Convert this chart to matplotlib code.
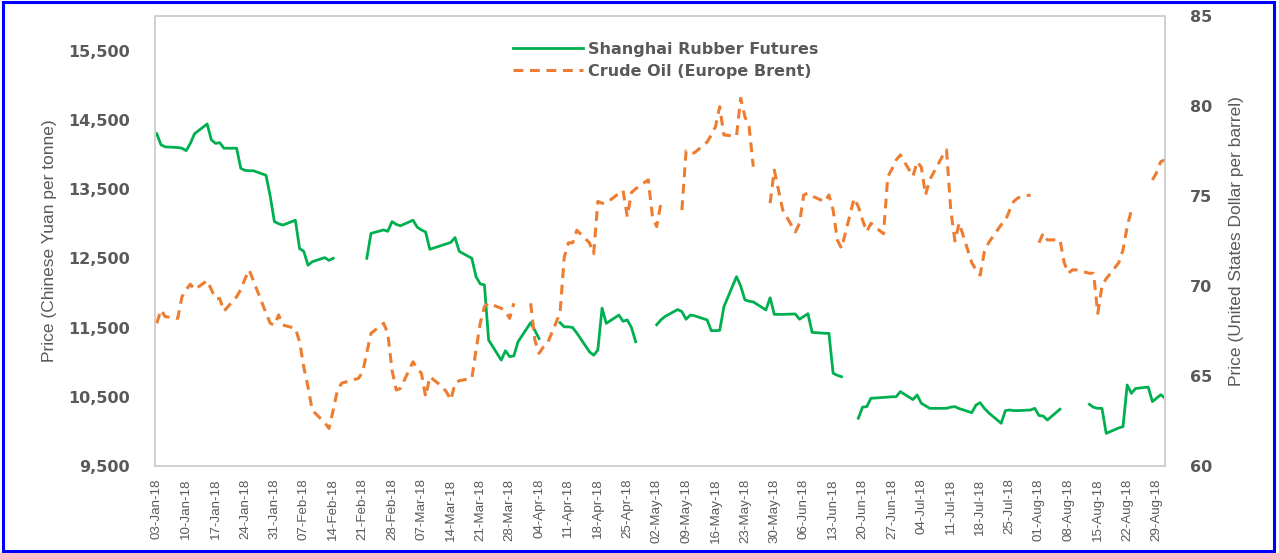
import numpy as np
import pandas as pd
import matplotlib
matplotlib.use("Agg")
import matplotlib.pyplot as plt
from matplotlib.patches import Rectangle

nan = np.nan

# Shanghai rubber futures (CNY / tonne), business days, nan = no trading
rubber_dates = [
    "2018-01-03", "2018-01-04", "2018-01-05", "2018-01-08", "2018-01-09", "2018-01-10",
    "2018-01-11", "2018-01-12", "2018-01-15", "2018-01-16", "2018-01-17", "2018-01-18",
    "2018-01-19", "2018-01-22", "2018-01-23", "2018-01-24", "2018-01-25", "2018-01-26",
    "2018-01-29", "2018-01-30", "2018-01-31", "2018-02-01", "2018-02-02", "2018-02-05",
    "2018-02-06", "2018-02-07", "2018-02-08", "2018-02-09", "2018-02-12", "2018-02-13",
    "2018-02-14", "2018-02-15", "2018-02-22", "2018-02-23", "2018-02-26", "2018-02-27",
    "2018-02-28", "2018-03-01", "2018-03-02", "2018-03-05", "2018-03-06", "2018-03-07",
    "2018-03-08", "2018-03-09", "2018-03-12", "2018-03-13", "2018-03-14", "2018-03-15",
    "2018-03-16", "2018-03-19", "2018-03-20", "2018-03-21", "2018-03-22", "2018-03-23",
    "2018-03-26", "2018-03-27", "2018-03-28", "2018-03-29", "2018-03-30", "2018-04-02",
    "2018-04-03", "2018-04-04", "2018-04-05", "2018-04-09", "2018-04-10", "2018-04-11",
    "2018-04-12", "2018-04-13", "2018-04-16", "2018-04-17", "2018-04-18", "2018-04-19",
    "2018-04-20", "2018-04-23", "2018-04-24", "2018-04-25", "2018-04-26", "2018-04-27",
    "2018-04-30", "2018-05-02", "2018-05-03", "2018-05-04", "2018-05-07", "2018-05-08",
    "2018-05-09", "2018-05-10", "2018-05-11", "2018-05-14", "2018-05-15", "2018-05-16",
    "2018-05-17", "2018-05-18", "2018-05-21", "2018-05-22", "2018-05-23", "2018-05-24",
    "2018-05-25", "2018-05-28", "2018-05-29", "2018-05-30", "2018-05-31", "2018-06-01",
    "2018-06-04", "2018-06-05", "2018-06-06", "2018-06-07", "2018-06-08", "2018-06-11",
    "2018-06-12", "2018-06-13", "2018-06-14", "2018-06-15", "2018-06-18", "2018-06-19",
    "2018-06-20", "2018-06-21", "2018-06-22", "2018-06-25", "2018-06-26", "2018-06-27",
    "2018-06-28", "2018-06-29", "2018-07-02", "2018-07-03", "2018-07-04", "2018-07-05",
    "2018-07-06", "2018-07-09", "2018-07-10", "2018-07-11", "2018-07-12", "2018-07-13",
    "2018-07-16", "2018-07-17", "2018-07-18", "2018-07-19", "2018-07-20", "2018-07-23",
    "2018-07-24", "2018-07-25", "2018-07-26", "2018-07-27", "2018-07-30", "2018-07-31",
    "2018-08-01", "2018-08-02", "2018-08-03", "2018-08-06", "2018-08-07", "2018-08-13",
    "2018-08-14", "2018-08-15", "2018-08-16", "2018-08-17", "2018-08-20", "2018-08-21",
    "2018-08-22", "2018-08-23", "2018-08-24", "2018-08-27", "2018-08-28", "2018-08-29",
    "2018-08-30", "2018-08-31",
]
rubber_price = [
    14300, 14140, 14110, 14100, 14090, 14055,
    14160, 14300, 14440, 14210, 14160, 14170,
    14090, 14090, 13800, 13770, 13765, 13765,
    13700, 13400, 13030, 13000, 12980, 13050,
    12640, 12600, 12400, 12450, 12510, 12470,
    12500, nan, 12500, 12860, 12910, 12890,
    13030, 12990, 12970, 13050, 12950, 12910,
    12880, 12630, 12690, 12710, 12730, 12800,
    12600, 12500, 12235, 12130, 12115, 11320,
    11030, 11165, 11080, 11090, 11295, 11570,
    11460, 11340, nan, 11570, 11510, 11510,
    11500, 11420, 11150, 11100, 11176, 11780,
    11560, 11680, 11590, 11610, 11500, 11295,
    nan, 11540, 11610, 11660, 11760, 11730,
    11620, 11680, 11670, 11610, 11455, 11455,
    11460, 11800, 12235, 12100, 11900, 11880,
    11870, 11754, 11930, 11690, 11690, 11690,
    11696, 11620, 11660, 11700, 11430, 11417,
    11417, 10839, 10810, 10790, nan, 10190,
    10350, 10357, 10478, 10490, 10495, 10500,
    10500, 10574, 10460, 10526, 10406, 10370,
    10333, 10333, 10333, 10350, 10357, 10330,
    10270, 10380, 10415, 10333, 10270, 10117,
    10300, 10309, 10300, 10300, 10309, 10333,
    10230, 10222, 10164, 10320, nan, 10391,
    10348, 10333, 10333, 9972, 10050, 10068,
    10670, 10550, 10620, 10640, 10430, 10480,
    10530, 10480,
]

# Europe Brent crude (USD / barrel), nan = no quote
brent_dates = [
    "2018-01-03", "2018-01-04", "2018-01-05", "2018-01-08", "2018-01-09", "2018-01-10",
    "2018-01-11", "2018-01-12", "2018-01-15", "2018-01-16", "2018-01-17", "2018-01-18",
    "2018-01-19", "2018-01-22", "2018-01-23", "2018-01-24", "2018-01-25", "2018-01-26",
    "2018-01-29", "2018-01-30", "2018-01-31", "2018-02-01", "2018-02-02", "2018-02-05",
    "2018-02-06", "2018-02-07", "2018-02-08", "2018-02-09", "2018-02-12", "2018-02-13",
    "2018-02-14", "2018-02-15", "2018-02-16", "2018-02-19", "2018-02-20", "2018-02-21",
    "2018-02-22", "2018-02-23", "2018-02-26", "2018-02-27", "2018-02-28", "2018-03-01",
    "2018-03-02", "2018-03-05", "2018-03-06", "2018-03-07", "2018-03-08", "2018-03-09",
    "2018-03-12", "2018-03-13", "2018-03-14", "2018-03-15", "2018-03-16", "2018-03-19",
    "2018-03-20", "2018-03-21", "2018-03-22", "2018-03-23", "2018-03-26", "2018-03-27",
    "2018-03-28", "2018-03-29", "2018-03-30", "2018-04-02", "2018-04-03", "2018-04-04",
    "2018-04-05", "2018-04-06", "2018-04-09", "2018-04-10", "2018-04-11", "2018-04-12",
    "2018-04-13", "2018-04-16", "2018-04-17", "2018-04-18", "2018-04-19", "2018-04-20",
    "2018-04-23", "2018-04-24", "2018-04-25", "2018-04-26", "2018-04-27", "2018-04-30",
    "2018-05-01", "2018-05-02", "2018-05-03", "2018-05-04", "2018-05-07", "2018-05-08",
    "2018-05-09", "2018-05-10", "2018-05-11", "2018-05-14", "2018-05-15", "2018-05-16",
    "2018-05-17", "2018-05-18", "2018-05-21", "2018-05-22", "2018-05-23", "2018-05-24",
    "2018-05-25", "2018-05-28", "2018-05-29", "2018-05-30", "2018-05-31", "2018-06-01",
    "2018-06-04", "2018-06-05", "2018-06-06", "2018-06-07", "2018-06-08", "2018-06-11",
    "2018-06-12", "2018-06-13", "2018-06-14", "2018-06-15", "2018-06-18", "2018-06-19",
    "2018-06-20", "2018-06-21", "2018-06-22", "2018-06-25", "2018-06-26", "2018-06-27",
    "2018-06-28", "2018-06-29", "2018-07-02", "2018-07-03", "2018-07-04", "2018-07-05",
    "2018-07-06", "2018-07-09", "2018-07-10", "2018-07-11", "2018-07-12", "2018-07-13",
    "2018-07-16", "2018-07-17", "2018-07-18", "2018-07-19", "2018-07-20", "2018-07-23",
    "2018-07-24", "2018-07-25", "2018-07-26", "2018-07-27", "2018-07-30", "2018-07-31",
    "2018-08-01", "2018-08-02", "2018-08-03", "2018-08-06", "2018-08-07", "2018-08-08",
    "2018-08-09", "2018-08-10", "2018-08-13", "2018-08-14", "2018-08-15", "2018-08-16",
    "2018-08-17", "2018-08-20", "2018-08-21", "2018-08-22", "2018-08-23", "2018-08-24",
    "2018-08-28", "2018-08-29", "2018-08-30", "2018-08-31",
]
brent_price = [
    67.93, 68.67, 68.30, 68.20, 69.40, 69.80,
    70.10, 69.80, 70.30, 69.80, 69.30, 69.30,
    68.60, 69.40, 69.80, 70.40, 70.89, 70.30,
    68.50, 67.93, 67.83, 68.39, 67.83, 67.65,
    66.90, 65.50, 64.40, 63.10, 62.40, 62.09,
    63.10, 64.20, 64.60, 64.80, 64.87, 65.20,
    66.30, 67.37, 67.93, 67.37, 65.33, 64.22,
    64.31, 65.79, 65.40, 65.15, 63.85, 64.96,
    64.40, 64.10, 63.67, 64.59, 64.74, 64.87,
    66.44, 67.93, 68.85, 69.04, 68.76, 68.60,
    68.20, 69.04, nan, 69.04, 67.00, 66.26,
    66.60, 66.82, 68.50, 71.60, 72.40, 72.40,
    73.10, 72.40, 71.80, 74.70, 74.60, 74.60,
    75.15, 75.30, 73.85, 75.20, 75.40, 75.90,
    73.85, 73.30, 74.60, 74.74, nan, 74.22,
    77.50, 77.37, 77.40, 78.00, 78.39, 78.85,
    79.96, 78.39, 78.33, 80.43, 79.41, 78.85,
    76.63, nan, 74.60, 76.44, 75.33, 74.22,
    73.00, 73.48, 75.06, 75.15, 75.00, 74.68,
    75.06, 74.22, 72.56, 72.09, 74.87, 74.41,
    73.67, 73.02, 73.48, 72.90, 76.07, 76.50,
    77.00, 77.28, 76.10, 76.90, 76.60, 75.06,
    75.90, 77.20, 77.56, 74.22, 72.50, 73.50,
    71.30, 70.90, 70.60, 71.90, 72.40, 73.40,
    73.63, 74.20, 74.70, 74.90, 75.06, nan,
    72.40, 72.93, 72.56, 72.56, 71.30, 70.71,
    70.90, 70.89, 70.71, 70.70, 68.48, 70.00,
    70.40, 71.30, 72.00, 73.30, 74.22, nan,
    75.89, 76.30, 76.91, 77.00,
]

rubber = pd.Series(rubber_price, index=pd.to_datetime(rubber_dates))
brent = pd.Series(brent_price, index=pd.to_datetime(brent_dates))

GREEN = "#00B050"
ORANGE = "#ED7D31"
GREY = "#595959"
TICK_FONT = ["DejaVu Sans"]
NARROW = ["Liberation Sans Narrow", "Liberation Sans", "DejaVu Sans"]

fig = plt.figure(figsize=(12.79, 5.53), dpi=100)
ax = fig.add_axes([155 / 1279, 1 - 466 / 553, 1010 / 1279, 450 / 553])
ax2 = ax.twinx()

l1, = ax.plot(rubber.index, rubber.values, color=GREEN, lw=2.0,
              label="Shanghai Rubber Futures")
l2, = ax2.plot(brent.index, brent.values, color=ORANGE, lw=2.2,
               linestyle=(0, (3.2, 2.2)), label="Crude Oil (Europe Brent)")

ax.set_xlim(pd.Timestamp("2018-01-02 14:00"), pd.Timestamp("2018-08-31 00:00"))
ax.set_ylim(9500, 16000)
ax2.set_ylim(60, 85)

ax.set_yticks(np.arange(9500, 15501, 1000))
ax.yaxis.set_major_formatter(matplotlib.ticker.FuncFormatter(lambda v, p: f"{int(v):,}"))
ax2.set_yticks(np.arange(60, 86, 5))

ticks = pd.date_range("2018-01-03", "2018-08-29", freq="7D")
ax.set_xticks(ticks)
ax.set_xticklabels([t.strftime("%d-%b-%y") for t in ticks], rotation=90,
                   fontsize=9.6, color=GREY, family=NARROW)

for a in (ax, ax2):
    a.tick_params(length=0)
    for s in a.spines.values():
        s.set_color("#D0D0D0")
        s.set_linewidth(1.2)

ax.tick_params(axis="y", labelsize=11.5, labelcolor=GREY, pad=18)
ax2.tick_params(axis="y", labelsize=11.5, labelcolor=GREY, pad=18)
ax.tick_params(axis="x", pad=9)
for lab in ax.get_yticklabels() + ax2.get_yticklabels():
    lab.set_family(TICK_FONT)
    lab.set_fontweight("bold")

ax.set_ylabel("Price (Chinese Yuan per tonne)", fontsize=12.5, color=GREY,
              family=NARROW, labelpad=8)
ax2.set_ylabel("Price (United States Dollar per barrel)", fontsize=12.5, color=GREY,
               family=NARROW, labelpad=12)

leg = ax.legend([l1, l2], [l1.get_label(), l2.get_label()], loc="upper left",
                bbox_to_anchor=(0.34, 0.975), frameon=False, handlelength=4.4,
                handletextpad=0.3, labelspacing=0.45,
                prop={"family": TICK_FONT, "size": 11.5, "weight": "bold"})
for t in leg.get_texts():
    t.set_color(GREY)

fig.patches.append(Rectangle((0.002, 0.003), 0.994, 0.993, transform=fig.transFigure,
                             fill=False, edgecolor="#0000FF", linewidth=2.2))

fig.savefig("out.png", dpi=100)
